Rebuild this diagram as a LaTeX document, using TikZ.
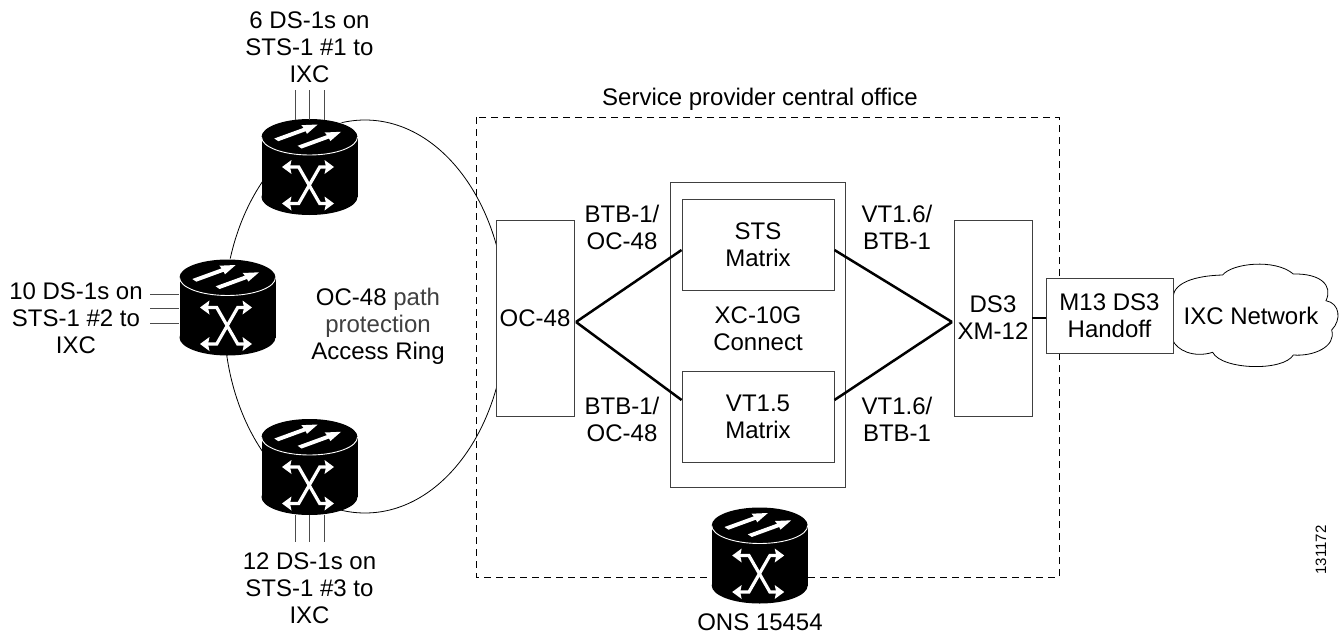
\documentclass[tikz,border=0pt]{standalone}
\usepackage{fontspec}
\setmainfont{Liberation Sans}
\tikzset{
  box/.style={draw=black!75,line width=0.9pt,fill=white,inner sep=0pt,align=center,font=\lbl},
  lbl/.style={inner sep=0pt,align=center,font=\lbl,text=black},
  thickline/.style={line width=2.5pt,black},
  ringline/.style={line width=0.8pt,black},
  feed/.style={line width=0.9pt,black!70},
  officeline/.style={line width=0.8pt,black,dash pattern=on 7pt off 5pt},
  router/.pic={
    \fill[white] (0,-30) ellipse [x radius=49,y radius=19];
    \fill[black] (0,-30) ellipse [x radius=48,y radius=18];
    \fill[black] (0,30) ellipse [x radius=48,y radius=18];
    \fill[black] (-48,-30) rectangle (48,30);
    \draw[white,line width=0.9pt] (-48,-30) .. controls (-48,-20) and (-26.5,-12) .. (0,-12) .. controls (26.5,-12) and (48,-20) .. (48,-30);
    \fill[white] (-35.2,-28.5) -- (-5.8,-39.2) -- (-8.2,-41.8) -- (8.2,-42.5) -- (-2.5,-33.2) -- (-3.8,-35.8) -- (-31.2,-25.8) -- cycle;
    \fill[white] (-11.9,-21.2) -- (17.5,-31.9) -- (15.1,-34.5) -- (31.5,-35.2) -- (20.8,-25.9) -- (19.5,-28.5) -- (-7.9,-18.5) -- cycle;
    \draw[white,line width=3.2pt] (-20,0) -- (-10.8,0) -- (10.2,36.5) -- (17,36.5);
    \draw[white,line width=3.2pt] (-20,36.5) -- (-10.8,36.5) -- (10.2,0) -- (17,0);
    \foreach \yy in {0,36.5}{
      \fill[white] (-27.5,\yy) -- (-18,{\yy-7}) -- (-19.5,\yy) -- (-18,{\yy+7}) -- cycle;
      \fill[white] (24.5,\yy) -- (15,{\yy-7}) -- (16.5,\yy) -- (15,{\yy+7}) -- cycle;
    }
  }
}
\newcommand{\lbl}{\fontsize{24}{27}\selectfont}
\begin{document}
\begin{tikzpicture}[x=1pt,y=-1pt]
\useasboundingbox (0,0) rectangle (1340,637);
% dashed office
\coordinate (ofa) at (476,117);
\coordinate (ofb) at (1059,577);
\draw[officeline] (ofa) rectangle (ofb);
% ring
\draw[ringline] (365,316.5) ellipse [x radius=141,y radius=196.5];
% cloud
\begin{scope}[shift={(1150,250)},x=0.3333pt,y=-0.3333pt]
\draw[line width=0.8pt,black,fill=white] (70,155) .. controls (60,110) and (110,78) .. (218,75)
 .. controls (245,40) and (375,25) .. (430,72)
 .. controls (510,70) and (550,105) .. (528,152)
 .. controls (570,160) and (575,210) .. (545,240)
 .. controls (560,290) and (490,320) .. (430,315)
 .. controls (400,365) and (215,360) .. (188,307)
 .. controls (130,325) and (80,300) .. (68,270);
\end{scope}
% boxes
\node[box,minimum width=78pt,minimum height=196pt] (oc) at (535,318) {OC-48};
\node[box,minimum width=175pt,minimum height=305pt] (xc) at (757.5,334.5) {};
\node[box,minimum width=152pt,minimum height=91pt] (sts) at (758,244.5) {STS\\Matrix};
\node[box,minimum width=152pt,minimum height=91pt] (vt) at (758,417) {VT1.5\\Matrix};
\node[box,minimum width=78pt,minimum height=196pt] (ds) at (993,318) {DS3\\XM-12};
\node[box,minimum width=127pt,minimum height=75pt] (m) at (1109.5,315.5) {M13 DS3\\Handoff};
% connectors
\coordinate (ocj) at (576,322);
\coordinate (dsj) at (952,322);
\draw[thickline] (ocj) -- ([yshift=-5.5pt]sts.west);
\draw[thickline] (ocj) -- ([yshift=17pt]vt.west);
\draw[thickline] ([yshift=-5.5pt]sts.east) -- (dsj);
\draw[thickline] ([yshift=17pt]vt.east) -- (dsj);
\draw[thickline] (ds.east |- 0,318) -- (m.west |- 0,318);
% routers
\pic (r1) at (309.5,167) {router};
\pic (r2) at (227.5,307.5) {router};
\pic (r3) at (309.5,467) {router};
\pic (r4) at (759.7,555.5) {router};
% feeds
\foreach \x in {295,309.5,324}{
  \draw[feed] (\x,90) -- (\x,120);
  \draw[feed] (\x,515) -- (\x,542);
}
\foreach \y in {294,308.5,323}{
  \draw[feed] (150,\y) -- (179,\y);
}
% labels
\node[lbl] (t1) at (309.5,47) {6 DS-1s on\\STS-1 \#1 to\\IXC};
\node[lbl] (t2) at (76,318) {10 DS-1s on\\STS-1 \#2 to\\IXC};
\node[lbl] (t3) at (309.5,588) {12 DS-1s on\\STS-1 \#3 to\\IXC};
\node[lbl] (t4) at (378,326) {OC-48 \textcolor{black!75}{path}\\\textcolor{black!75}{protection}\\Access Ring};
\node[lbl] (t5) at (760,99) {Service provider central office};
\node[lbl] (t6) at (622,227) {BTB-1/\\OC-48};
\node[lbl] (t7) at (622,419) {BTB-1/\\OC-48};
\node[lbl] (t8) at (897,227) {VT1.6/\\BTB-1};
\node[lbl] (t9) at (897,419) {VT1.6/\\BTB-1};
\node[lbl] (t10) at (758,329) {XC-10G\\Connect};
\node[lbl] (t11) at (1251,316) {IXC Network};
\node[lbl] (t12) at (760,622) {ONS 15454};
\node[inner sep=0pt,font=\fontsize{15}{15}\selectfont,rotate=90] (t13) at (1321,550) {131172};
\end{tikzpicture}
\end{document}
